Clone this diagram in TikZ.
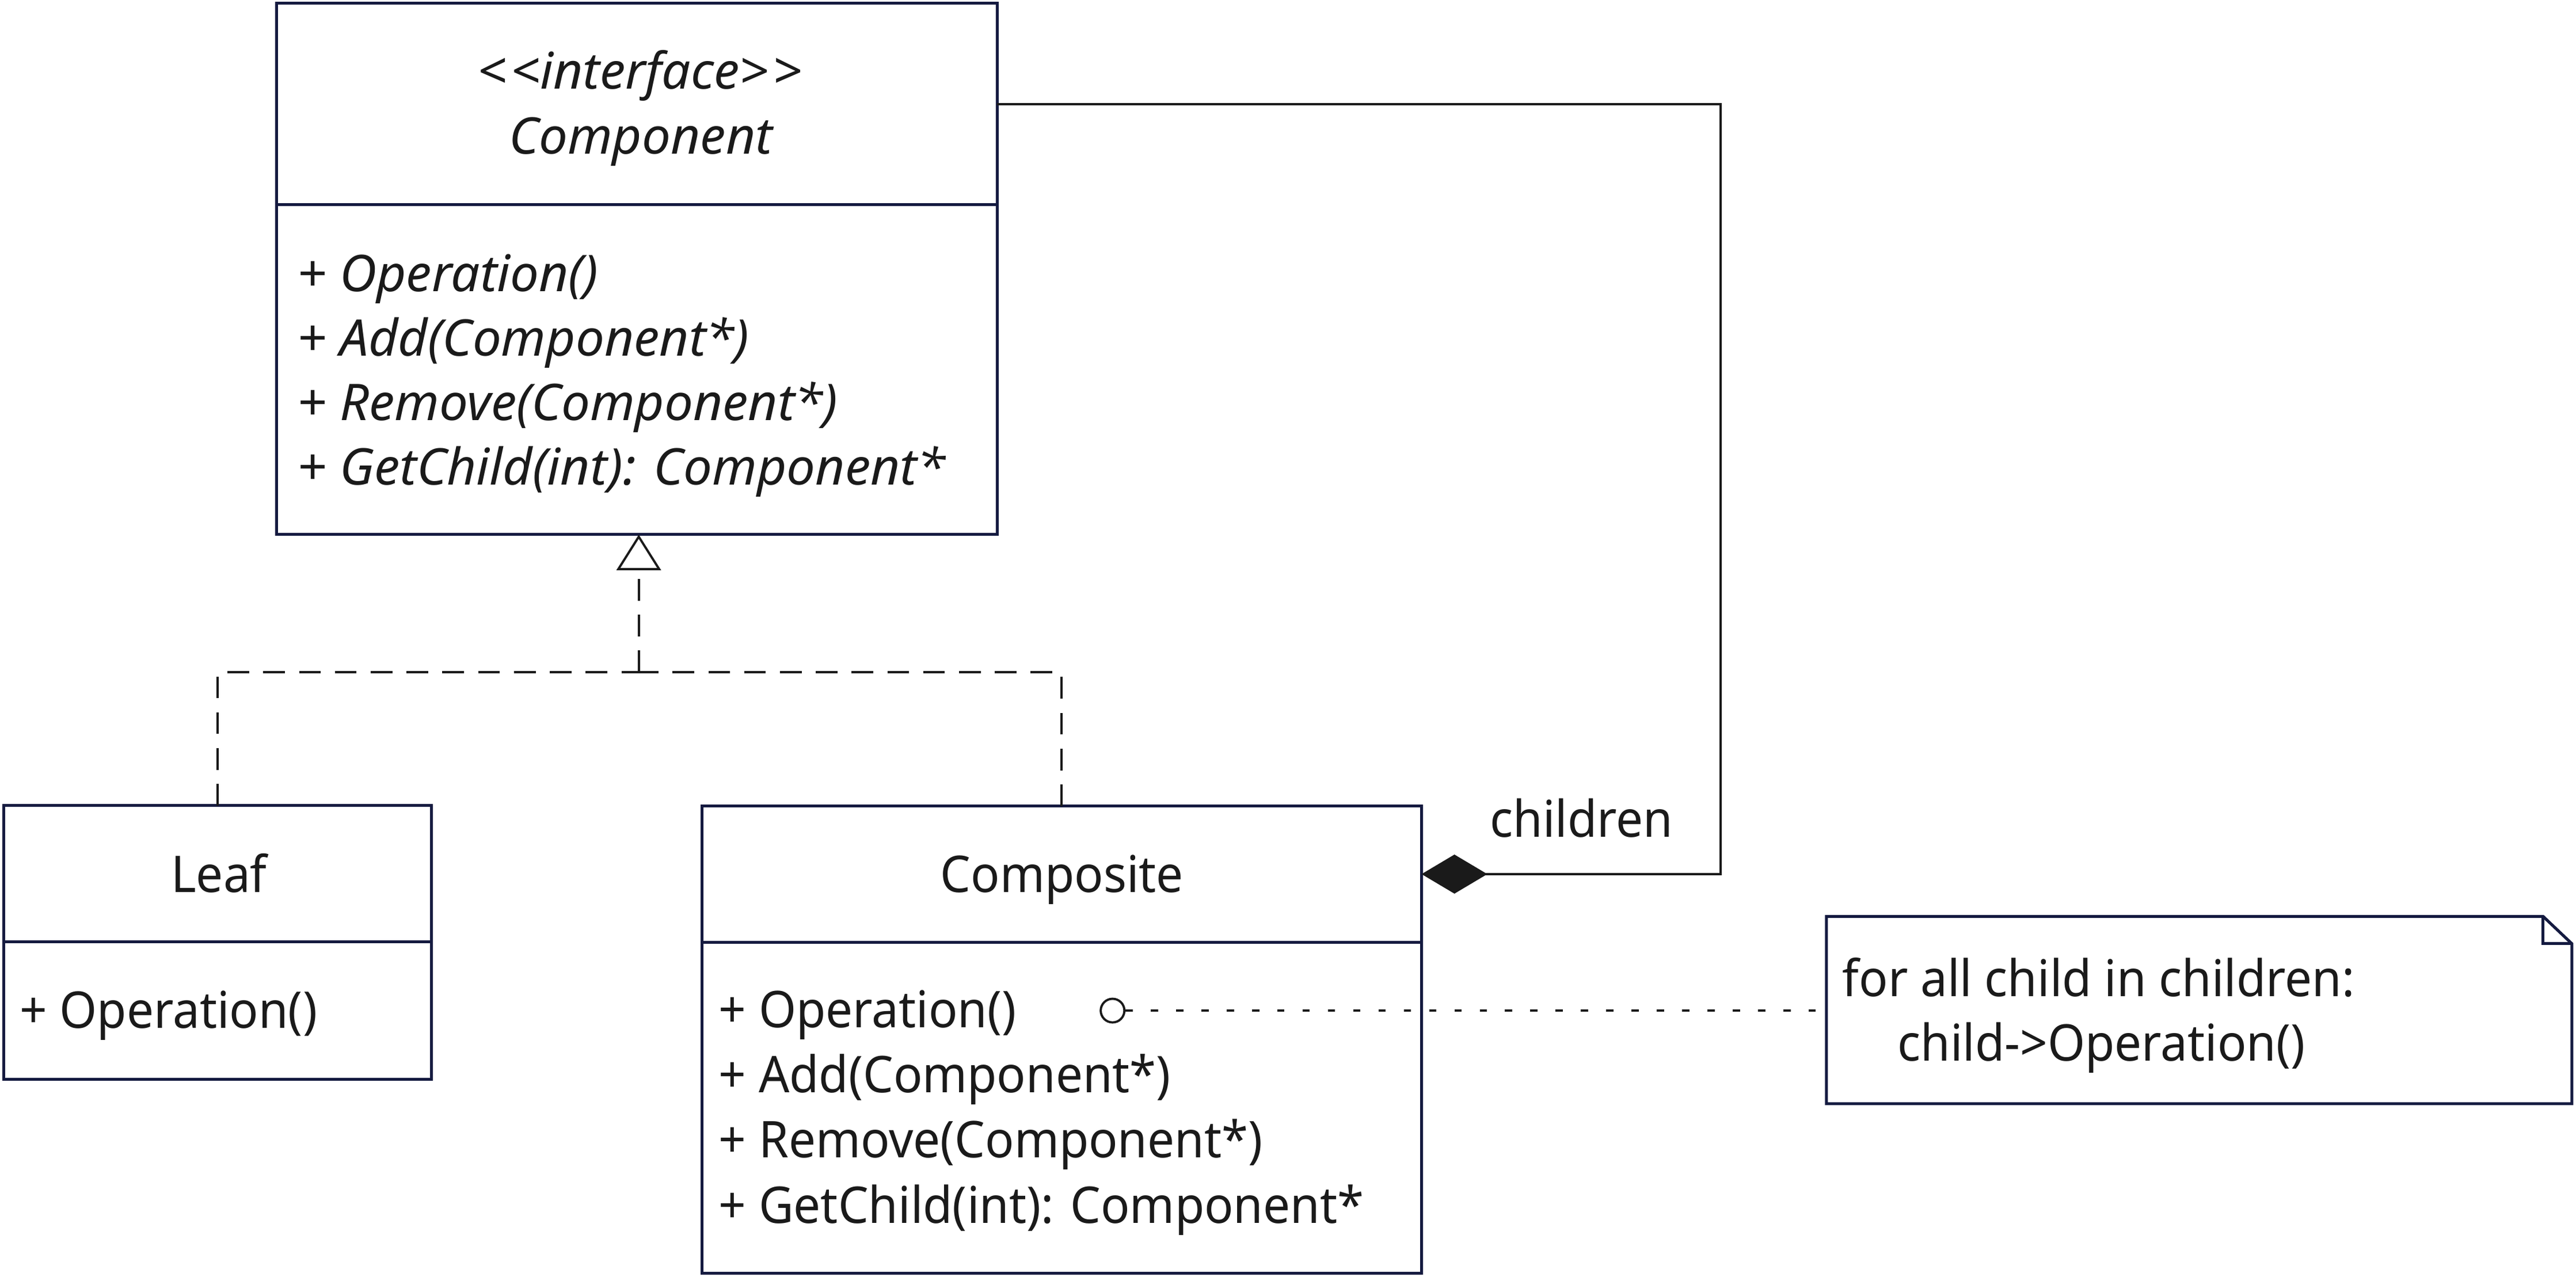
\documentclass[tikz,border=0pt]{standalone}
\usepackage{fontspec}
\setmainfont[Ligatures=TeXOff, FakeStretch=0.95, ItalicFeatures={FakeStretch=1.01}]{Noto Sans}
\usetikzlibrary{arrows.meta}
\definecolor{boxcol}{RGB}{20,26,64}
\definecolor{ink}{RGB}{26,26,26}
\begin{document}
\begin{tikzpicture}[x=0.5pt,y=-0.5pt,
  box/.style={draw=boxcol, line width=0.88pt, inner sep=0pt, outer sep=0pt, rectangle},
  lbl/.style={inner sep=0pt, outer sep=0pt, text=ink, font=\fontsize{15.4pt}{18pt}\selectfont},
  ilbl/.style={lbl, font=\fontsize{15.4pt}{18pt}\selectfont\itshape},
  conn/.style={draw=ink, line width=0.68pt},
  realize/.style={conn, dash pattern=on 6.6pt off 4.3pt},
  dotl/.style={conn, dash pattern=on 2.2pt off 5.5pt},
]
\useasboundingbox (0,0) rectangle (1568,777.5);

% Component
\node[box, minimum width=219.2pt, minimum height=61.35pt] (comph) at (387.7,63.35) {};
\node[box, minimum width=219.2pt, minimum height=100.4pt, anchor=north] (compm) at (comph.south) {};
\node[ilbl, anchor=base] (cst) at (389.5,54.3) {<\kern1.2pt<interface>\kern1.2pt>};
\node[ilbl, anchor=base] (cnm) at (390,93.8) {Component};
\node[ilbl, anchor=base west] (cm1) at (181,177.6) {+ Operation()};
\node[ilbl, anchor=base west] (cm2) at (181,216.8) {+ Add(Component*)};
\node[ilbl, anchor=base west] (cm3) at (181,256.0) {+ Remove(Component*)};
\node[ilbl, anchor=base west] (cm4) at (181,295.2) {+ GetChild(int): Component*};

% Leaf
\node[box, minimum width=130.15pt, minimum height=41.4pt] (leafh) at (132.45,531.9) {};
\node[box, minimum width=130.15pt, minimum height=41.85pt, anchor=north] (leafm) at (leafh.south) {};
\node[lbl, anchor=base] (lnm) at (133.3,543.4) {Leaf};
\node[lbl, anchor=base west] (lm1) at (12,626) {+ Operation()};

% Composite
\node[box, minimum width=219.05pt, minimum height=41.4pt] (cmph) at (646.25,532.2) {};
\node[box, minimum width=219.05pt, minimum height=100.85pt, anchor=north] (cmpm) at (cmph.south) {};
\node[lbl, anchor=base] (knm) at (646.4,543.4) {Composite};
\node[lbl, anchor=base west] (km1) at (437.5,625.5) {+ Operation()};
\node[lbl, anchor=base west] (km2) at (437.5,665.2) {+ Add(Component*)};
\node[lbl, anchor=base west] (km3) at (437.5,704.9) {+ Remove(Component*)};
\node[lbl, anchor=base west] (km4) at (437.5,744.6) {+ GetChild(int): Component*};

% Note
\node[inner sep=0pt, outer sep=0pt, minimum width=226.9pt, minimum height=57pt] (note) at (1338.6,615) {};
\draw[draw=boxcol, line width=0.88pt, line join=miter]
  (note.south west) -- (note.north west) -- ([xshift=-8.75pt]note.north east)
  -- ([yshift=-8.3pt]note.north east) -- (note.south east) -- cycle;
\draw[draw=boxcol, line width=0.88pt]
  ([xshift=-8.75pt]note.north east) |- ([yshift=-8.3pt]note.north east);
\node[lbl, anchor=base west] (n1) at (1121.5,606.8) {for all child in children:};
\node[lbl, anchor=base west] (n2) at (1155,645.9) {child->Operation()};

% Realization
\coordinate (gj) at (388.8,409.3);
\draw[realize] (leafh.north) |- (gj);
\draw[realize] (cmph.north) |- (gj);
\draw[realize, -{Triangle[open, length=10.85pt, width=13.5pt, fill=white]}] (gj) -- (gj |- compm.south);

% Composition
\coordinate (cc) at (1047.3,532.2);
\draw[conn, -{Diamond[length=20pt, width=11.9pt, fill=ink]}] (comph.east) -| (cc) -- (cmph.east);
\node[lbl, anchor=base west] (chl) at (907,509.5) {children};

% Note anchor
\node[circle, draw=ink, line width=0.68pt, fill=white, minimum size=7.2pt, inner sep=0pt] (opc) at (677.2,615.3) {};
\draw[dotl] (opc.east) -- (note.west |- opc.east);
\end{tikzpicture}
\end{document}
